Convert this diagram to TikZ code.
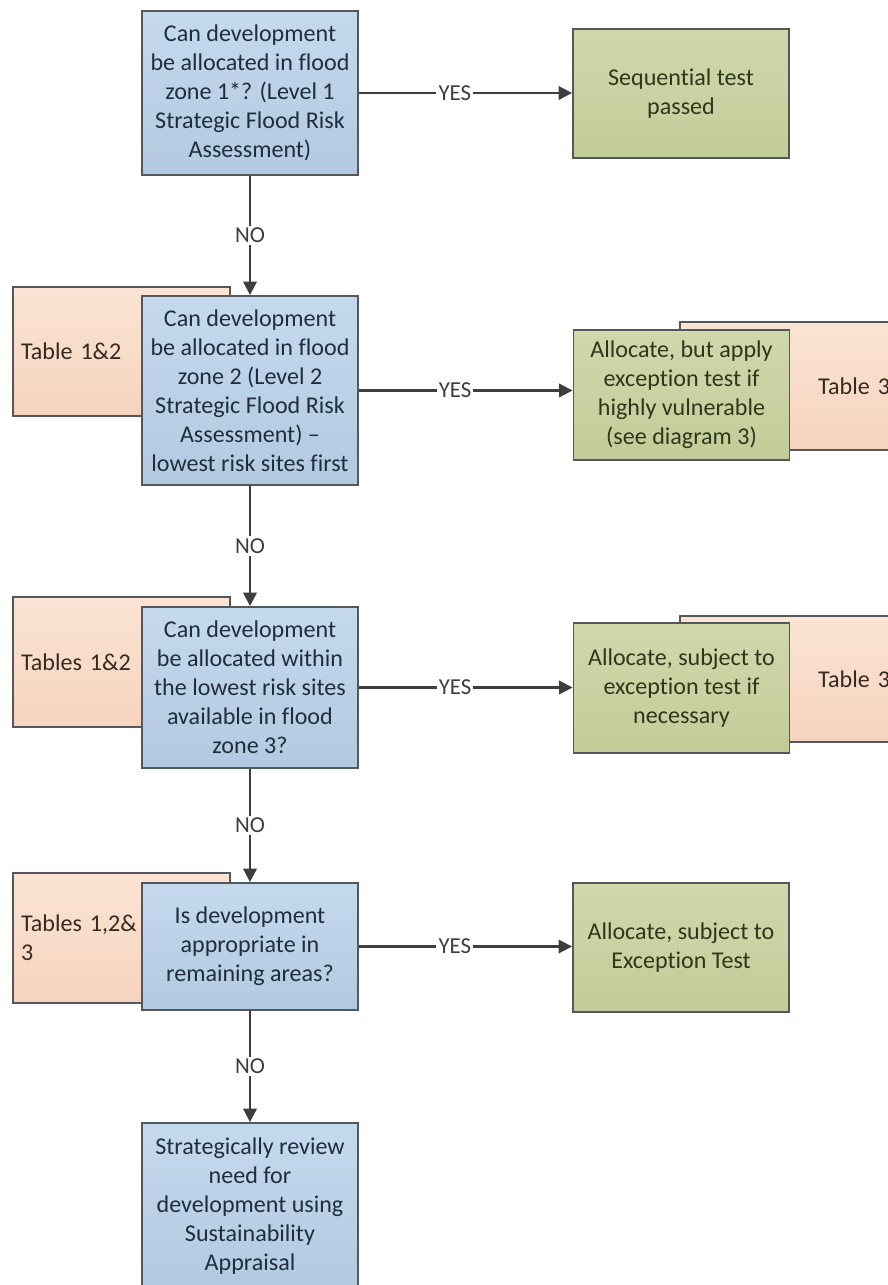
\documentclass[tikz,border=0pt]{standalone}
\usepackage{fontspec}
\setmainfont{Carlito}[Ligatures=NoCommon]
\usetikzlibrary{arrows.meta}

\definecolor{boxline}{HTML}{55585B}
\definecolor{bluetop}{HTML}{C5D9EE}
\definecolor{bluebot}{HTML}{B2C9E1}
\definecolor{bluetext}{HTML}{1F2E3E}
\definecolor{greentop}{HTML}{D0D8AC}
\definecolor{greenbot}{HTML}{C2CC98}
\definecolor{greentext}{HTML}{2E3719}
\definecolor{peachtop}{HTML}{FBE4D4}
\definecolor{peachbot}{HTML}{F6D3BE}
\definecolor{peachtext}{HTML}{372A20}
\definecolor{flowline}{HTML}{3C3E40}

\begin{document}
\begin{tikzpicture}[
  x=0.02cm, y=-0.02cm,
  basebox/.style={draw=boxline, line width=1.1pt, rectangle, inner sep=0pt,
    align=center, font=\fontsize{13.7}{16.5}\selectfont},
  question/.style={basebox, top color=bluetop, bottom color=bluebot,
    text=bluetext, minimum width=4.32cm},
  outcome/.style={basebox, top color=greentop, bottom color=greenbot,
    text=greentext, minimum width=4.32cm},
  tableleft/.style={basebox, top color=peachtop, bottom color=peachbot,
    text=peachtext, inner xsep=0.16cm, text width=4.02cm, align=left},
  tableright/.style={basebox, top color=peachtop, bottom color=peachbot,
    text=peachtext, inner xsep=0.2cm, text width=4.0cm, align=right},
  flow/.style={draw=flowline, line width=1.2pt,
    -{Triangle[length=0.27cm, width=0.27cm]}},
  edgelabel/.style={fill=white, inner sep=1.2pt, text=flowline,
    font=\fontsize{13}{15}\selectfont},
]
\useasboundingbox (0,0) rectangle (888,1285);
\clip (0,0) rectangle (888,1285);
\fill[white] (0,0) rectangle (888,1285);

% reference tables, drawn first so the decision boxes overlap them
\node[tableleft, minimum height=2.58cm] (t2) at (121.5,351.5) {Table 1\&2};
\node[tableleft, minimum height=2.6cm] (t3) at (121.5,662) {Tables 1\&2};
\node[tableleft, minimum height=2.6cm] (t4) at (121.5,938) {Tables 1,2\&\\3};
\node[tableright, minimum height=2.56cm] (r2) at (790,386) {Table 3};
\node[tableright, minimum height=2.52cm] (r3) at (790,679) {Table 3};

% decision boxes
\node[question, minimum height=3.28cm] (b1) at (250,93)
  {Can development\\be allocated in flood\\zone 1*? (Level 1\\Strategic Flood Risk\\Assessment)};
\node[question, minimum height=3.78cm] (b2) at (250,390.5)
  {Can development\\be allocated in flood\\zone 2 (Level 2\\Strategic Flood Risk\\Assessment) --\\lowest risk sites first};
\node[question, minimum height=3.22cm] (b3) at (250,687.5)
  {Can development\\be allocated within\\the lowest risk sites\\available in flood\\zone 3?};
\node[question, minimum height=2.54cm] (b4) at (250,946.5)
  {Is development\\appropriate in\\remaining areas?};
\node[question, minimum height=3.34cm] (b5) at (250,1206.5)
  {Strategically review\\need for\\development using\\Sustainability\\Appraisal};

% outcome boxes
\node[outcome, minimum height=2.58cm] (g1) at (681,93.5) {Sequential test\\passed};
\node[outcome, minimum height=2.6cm] (g2) at (681.5,395)
  {Allocate, but apply\\exception test if\\highly vulnerable\\(see diagram 3)};
\node[outcome, minimum height=2.6cm] (g3) at (681.5,688)
  {Allocate, subject to\\exception test if\\necessary};
\node[outcome, minimum height=2.58cm] (g4) at (681,947.5)
  {Allocate, subject to\\Exception Test};

% NO branches
\draw[flow] (b1.south) -- node[edgelabel] {NO} (b2.north);
\draw[flow] (b2.south) -- node[edgelabel] {NO} (b3.north);
\draw[flow] (b3.south) -- node[edgelabel] {NO} (b4.north);
\draw[flow] (b4.south) -- node[edgelabel] {NO} (b5.north);

% YES branches
\draw[flow] (b1.east) -- node[edgelabel, pos=0.45] {YES} (b1.east -| g1.west);
\draw[flow] (b2.east) -- node[edgelabel, pos=0.45] {YES} (b2.east -| g2.west);
\draw[flow] (b3.east) -- node[edgelabel, pos=0.45] {YES} (b3.east -| g3.west);
\draw[flow] (b4.east) -- node[edgelabel, pos=0.45] {YES} (b4.east -| g4.west);
\end{tikzpicture}
\end{document}
